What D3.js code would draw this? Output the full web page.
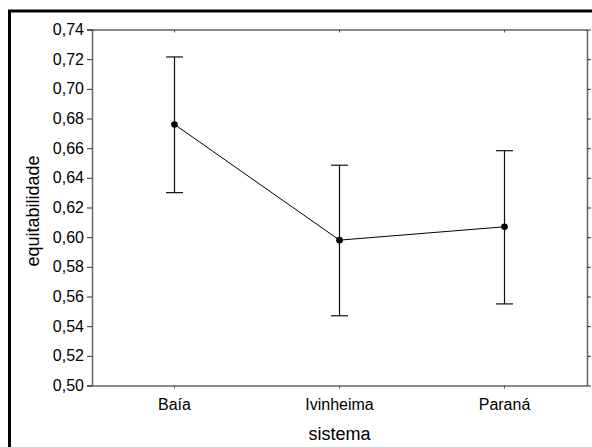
<!DOCTYPE html>
<html><head><meta charset="utf-8">
<script src="https://cdn.jsdelivr.net/npm/d3@7"></script>
<style>body{margin:0;background:#fff}svg{display:block}text{font-family:"Liberation Sans",Arial,sans-serif}</style>
</head><body><svg id="c" width="592" height="447"></svg>
<script>
const categories = ["Baía","Ivinheima","Paraná"];
const means = [0.676, 0.598, 0.607];
const lower = [0.630, 0.547, 0.555];
const upper = [0.7215, 0.6485, 0.6583];
const yTicks = [0.50,0.52,0.54,0.56,0.58,0.60,0.62,0.64,0.66,0.68,0.70,0.72,0.74];

const svg = d3.select("#c");
const L=92, R=587, T=29.5, B=385.5;
const x = d3.scaleBand().domain(categories).range([L,R]);
const y = d3.scaleLinear().domain([0.50,0.74]).range([B,T]);
const fmt = d => d.toFixed(2).replace(".", ",");

// outer frame
svg.append("rect").attr("x",9.5).attr("y",11).attr("width",700).attr("height",700)
  .attr("fill","none").attr("stroke","#000").attr("stroke-width",3);

// left axis
const gl = svg.append("g").attr("transform",`translate(${L},0)`)
  .call(d3.axisLeft(y).tickValues(yTicks).tickFormat(fmt).tickSize(5).tickPadding(3));
gl.select(".domain").attr("stroke","#666").attr("stroke-width",1.5);
gl.selectAll(".tick line").attr("stroke","#333");
gl.selectAll("text").attr("font-size",16).attr("fill","#000").attr("font-family","Liberation Sans, Arial, sans-serif");

// right axis (inner ticks)
const gr = svg.append("g").attr("transform",`translate(${R},0)`)
  .call(d3.axisLeft(y).tickValues(yTicks).tickFormat("").tickSize(-4).tickSizeOuter(0));
gr.select(".domain").attr("stroke","#666").attr("stroke-width",1.5);
gr.selectAll(".tick line").attr("stroke","#333");

// top axis
const gt = svg.append("g").attr("transform",`translate(0,${T})`)
  .call(d3.axisBottom(x).tickFormat("").tickSize(3).tickSizeOuter(0));
gt.select(".domain").attr("stroke","#111").attr("stroke-width",1);
gt.selectAll(".tick line").attr("stroke","#555");

// bottom axis
const gb = svg.append("g").attr("transform",`translate(0,${B})`)
  .call(d3.axisBottom(x).tickSize(3).tickSizeOuter(0).tickPadding(10));
gb.select(".domain").attr("stroke","#666").attr("stroke-width",1.5);
gb.selectAll(".tick line").attr("stroke","#555");
gb.selectAll("text").attr("font-size",16).attr("fill","#000").attr("font-family","Liberation Sans, Arial, sans-serif");

// axis titles
svg.append("text").attr("x",(L+R)/2).attr("y",440).attr("text-anchor","middle")
  .attr("font-size",18).text("sistema");
svg.append("text").attr("transform",`translate(39,211) rotate(-90)`)
  .attr("text-anchor","middle").attr("font-size",18).text("equitabilidade");

const cx = d => x(d) + x.bandwidth()/2;
const data = categories.map((c,i)=>({c, m:means[i], lo:lower[i], hi:upper[i]}));

// error bars
const eb = svg.append("g").attr("stroke","#111").attr("stroke-width",1.2);
data.forEach(d=>{
  eb.append("line").attr("x1",cx(d.c)).attr("x2",cx(d.c)).attr("y1",y(d.hi)).attr("y2",y(d.lo));
  eb.append("line").attr("x1",cx(d.c)-8.5).attr("x2",cx(d.c)+8.5).attr("y1",y(d.hi)).attr("y2",y(d.hi));
  eb.append("line").attr("x1",cx(d.c)-8.5).attr("x2",cx(d.c)+8.5).attr("y1",y(d.lo)).attr("y2",y(d.lo));
});

// mean line
svg.append("path").datum(data)
  .attr("d", d3.line().x(d=>cx(d.c)).y(d=>y(d.m)))
  .attr("fill","none").attr("stroke","#000").attr("stroke-width",1);
svg.selectAll("circle.m").data(data).enter().append("circle")
  .attr("cx",d=>cx(d.c)).attr("cy",d=>y(d.m)).attr("r",3.3).attr("fill","#000");
</script></body></html>
